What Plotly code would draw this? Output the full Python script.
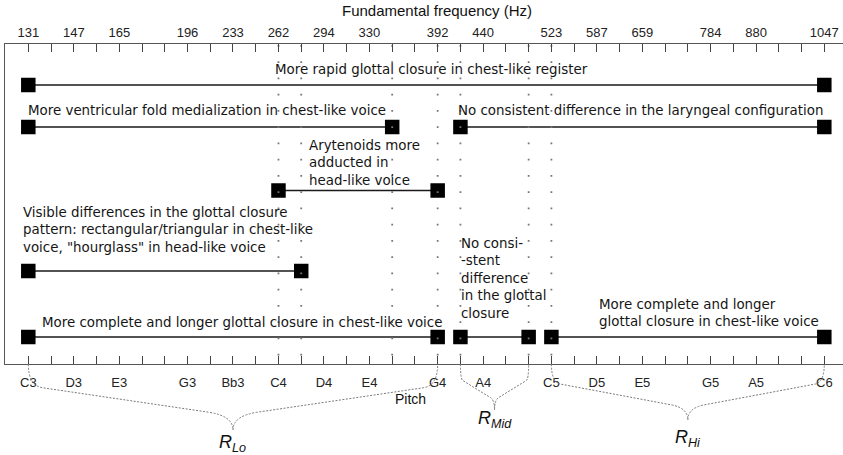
import plotly.graph_objects as go

# ---------------- data ----------------
n_ticks = 36  # semitone-like tick marks drawn on both axes
tick_pos = [0, 2, 4, 7, 9, 11, 13, 15, 18, 20, 23, 25, 27, 30, 32, 35]
hz_labels = ["131", "147", "165", "196", "233", "262", "294", "330",
             "392", "440", "523", "587", "659", "784", "880", "1047"]
pitch_labels = ["C3", "D3", "E3", "G3", "Bb3", "C4", "D4", "E4",
                "G4", "A4", "C5", "D5", "E5", "G5", "A5", "C6"]

# findings: pitch-range segments (tick index) and the row they belong to
seg_start = [0, 0, 19, 11, 0, 0, 19, 23]
seg_end = [35, 16, 35, 18, 12, 18, 22, 35]
seg_row = [0, 1, 1, 2, 3, 4, 4, 4]

finding_texts = [
    "More rapid glottal closure in chest-like register",
    "More ventricular fold medialization in chest-like voice",
    "No consistent difference in the laryngeal configuration",
    "Arytenoids more<br>adducted in<br>head-like voice",
    "Visible differences in the glottal closure<br>pattern: rectangular/triangular in chest-like<br>voice, \"hourglass\" in head-like voice",
    "More complete and longer glottal closure in chest-like voice",
    "No consi-<br>-stent<br>difference<br>in the glottal<br>closure",
    "More complete and longer<br>glottal closure in chest-like voice",
]

# register ranges (braces)
brace_start = [0, 19, 23]
brace_end = [18, 22, 35]
brace_names = ["Lo", "Mid", "Hi"]

# ---------------- layout / style ----------------
row_y = [85, 127, 190.5, 271, 337]             # y positions of rows (axis units = px from top)
text_x = [10.76, -0.10, 18.81, 12.25, -0.32, 0.51, 18.94, 25.0]
text_y = [69, 110, 110, 162.5, 230, 322, 278.5, 313]
brace_depth_px = [66, 46, 56]
brace_label_y_px = [443, 419, 438]

TXT_FONT = dict(family="DejaVu Sans", size=13.4, color="#151515")
TICK_FONT = dict(family="Liberation Sans, Arial", size=13, color="#222")
XR = [-1.0245, 35.822]
PLOT_TOP, PLOT_BOT = 44, 364
PH = PLOT_BOT - PLOT_TOP

fig = go.Figure()

# segments with square end markers
for s, e, r in zip(seg_start, seg_end, seg_row):
    fig.add_trace(go.Scatter(
        x=[s, e], y=[row_y[r], row_y[r]], mode="lines+markers",
        line=dict(color="#1a1a1a", width=1.3),
        marker=dict(symbol="square", size=14.5, color="black", line=dict(width=0)),
        showlegend=False, hoverinfo="skip"))

# dotted reference lines at interior segment boundaries
boundaries = sorted(set(seg_start + seg_end) - {0, n_ticks - 1})
for b in boundaries:
    fig.add_trace(go.Scatter(
        x=[b, b], y=[PLOT_TOP + 1, PLOT_BOT], mode="lines",
        line=dict(color="#777777", width=1.8, dash="1.8px,14.45px"),
        showlegend=False, hoverinfo="skip"))

# dummy trace so the top axis is drawn
fig.add_trace(go.Scatter(x=[0], y=[row_y[0]], xaxis="x2", mode="markers",
                         marker=dict(opacity=0), showlegend=False, hoverinfo="skip"))

# finding texts
for t, x, y in zip(finding_texts, text_x, text_y):
    fig.add_annotation(x=x, y=y, xref="x", yref="y", text=t, showarrow=False,
                       xanchor="left", yanchor="middle", align="left", font=TXT_FONT)

# braces below the axis
shapes = []
for s, e, name, dpx, lpx in zip(brace_start, brace_end, brace_names, brace_depth_px, brace_label_y_px):
    d = dpx / PH
    w = (e - s) / 2.0
    xm = (s + e) / 2.0
    p = (f"M {s},0 Q {s},{-0.328*d} {s+0.07*w},{-0.36*d} "
         f"L {s+0.88*w},{-0.73*d} Q {xm},{-0.785*d} {xm},{-d} "
         f"Q {xm},{-0.785*d} {e-0.88*w},{-0.73*d} "
         f"L {e-0.07*w},{-0.36*d} Q {e},{-0.328*d} {e},0")
    shapes.append(dict(type="path", path=p, xref="x", yref="paper",
                       line=dict(color="#7a7a7a", width=1, dash="2px,1.5px")))
    fig.add_annotation(x=xm, y=(PLOT_BOT - lpx) / PH, xref="x", yref="paper",
                       text=f"<i>R<sub>{name}</sub></i>", showarrow=False,
                       xanchor="center", yanchor="middle",
                       font=dict(family="Liberation Sans, Arial", size=18, color="#111"))

# axis titles
fig.add_annotation(x=17.97, y=(PLOT_BOT - 10) / PH, xref="x", yref="paper",
                   text="Fundamental frequency (Hz)", showarrow=False,
                   xanchor="center", yanchor="middle",
                   font=dict(family="Liberation Sans, Arial", size=15, color="#111"))
fig.add_annotation(x=16.8, y=(PLOT_BOT - 399) / PH, xref="x", yref="paper",
                   text="Pitch", showarrow=False, xanchor="center", yanchor="middle",
                   font=dict(family="Liberation Sans, Arial", size=14, color="#111"))

axis_common = dict(range=XR, tickmode="array", tickvals=tick_pos, ticks="inside",
                   ticklen=8, tickcolor="#444", tickwidth=1, showline=True,
                   linecolor="#555", linewidth=1.3, showgrid=False, zeroline=False,
                   tickfont=TICK_FONT,
                   minor=dict(tickmode="linear", tick0=0, dtick=1, ticks="inside",
                              ticklen=8, tickcolor="#444", tickwidth=1, showgrid=False))

fig.update_layout(
    width=843, height=455,
    margin=dict(l=5, r=0, t=PLOT_TOP, b=455 - PLOT_BOT, pad=0),
    paper_bgcolor="white", plot_bgcolor="white",
    showlegend=False,
    xaxis=dict(**axis_common, ticktext=pitch_labels, side="bottom", anchor="y",
               ticklabelstandoff=6),
    xaxis2=dict(**axis_common, ticktext=hz_labels, side="top", overlaying="x", anchor="y",
                ticklabelstandoff=1),
    yaxis=dict(range=[PLOT_BOT, PLOT_TOP], showline=True, linecolor="#555", linewidth=1.3,
               showticklabels=False, ticks="", showgrid=False, zeroline=False),
    shapes=shapes,
)

fig.write_html("out.html")
